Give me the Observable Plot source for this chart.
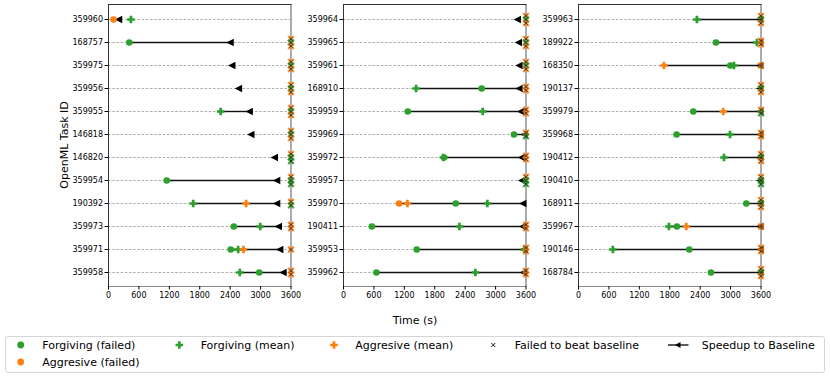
<!DOCTYPE html>
<html><head><meta charset="utf-8">
<script src="https://cdn.jsdelivr.net/npm/d3@7"></script>
<script src="https://cdn.jsdelivr.net/npm/@observablehq/plot@0.6"></script>
<style>
body{margin:0;background:#fff;font-family:"DejaVu Sans",sans-serif;}
#wrap{position:relative;width:830px;height:378px;overflow:hidden;background:#fff;}
.panel{position:absolute;top:0;}
.lbl{position:absolute;font-size:11px;color:#000;white-space:nowrap;line-height:13px;}
#legend{position:absolute;left:5px;top:336px;width:820px;height:37px;border:1px solid #d6d6d6;border-radius:3px;box-sizing:border-box;}
</style></head>
<body><div id="wrap"></div>
<script>
// ---------- data ----------
const xTicks = [0, 600, 1200, 1800, 2400, 3000, 3600];

const p1Tasks = ["359960","168757","359975","359956","359955","146818","146820","359954","190392","359973","359971","359958"];
const p1Baseline = [198, 2398, 2431, 2563, 2775, 2807, 3270, 3316, 3316, 3349, 3376, 3442];
const p1ForgivingFailed = [null, 410, null, null, null, null, null, 1149, null, 2471, 2411, 2973];
const p1ForgivingMean = [443, null, null, null, 2213, null, null, null, 1671, 2993, 2557, 2590];
const p1AggressiveFailed = [99, null, null, null, null, null, null, null, null, null, null, null];
const p1AggressiveMean = [null, null, null, null, null, null, null, null, 2715, null, 2662, null];
const p1FailF = [0, 1, 1, 1, 1, 1, 2, 2, 1, 0, 0, 0];
const p1FailA = [0, 2, 2, 2, 2, 2, 1, 1, 1, 2, 1, 2];

const p2Tasks = ["359964","359965","359961","168910","359959","359969","359972","359957","359970","190411","359953","359962"];
const p2Baseline = [3429, 3449, 3462, 3462, 3495, 3560, 3508, 3514, 3534, 3534, 3560, 3547];
const p2ForgivingFailed = [null, null, null, 2726, 1268, 3363, 1984, null, 2214, 558, 1445, 650];
const p2ForgivingMean = [null, null, null, 1432, 2746, null, 1970, null, 2838, 2286, 3565, 2601];
const p2AggressiveFailed = [null, null, null, null, null, null, null, null, 1097, null, null, null];
const p2AggressiveMean = [null, null, null, null, null, null, null, null, 1261, null, null, null];
const p2FailF = [1, 1, 1, 0, 0, 1, 0, 2, 0, 0, 0, 0];
const p2FailA = [2, 2, 2, 2, 2, 1, 2, 1, 0, 2, 2, 2];

const p3Tasks = ["359963","189922","168350","190137","359979","359968","190412","190410","168911","359967","190146","168784"];
const p3Baseline = [3570, 3572, 3575, 3575, 3575, 3576, 3576, 3578, 3578, 3578, 3580, 3580];
const p3ForgivingFailed = [null, 2711, 2994, null, 2264, 1935, null, null, 3310, 1941, 2185, 2613];
const p3ForgivingMean = [2336, 3521, 3067, null, null, 2988, 2869, null, null, 1783, 678, null];
const p3AggressiveFailed = [null, null, null, null, null, null, null, null, null, null, null, null];
const p3AggressiveMean = [null, null, 1685, null, 2856, null, null, null, null, 2126, null, null];
const p3FailF = [1, 0, 0, 1, 1, 0, 1, 2, 1, 0, 0, 1];
const p3FailA = [2, 2, 1, 2, 1, 2, 2, 1, 2, 1, 2, 2];

const legendLabels = ["Forgiving (failed)", "Forgiving (mean)", "Aggresive (mean)", "Failed to beat baseline", "Speedup to Baseline", "Aggresive (failed)"];
const GREEN = "#2ca02c", ORANGE = "#ff7f0e";

// ---------- symbols ----------
const triLeft = {draw(ctx, size){ const h = Math.sqrt(size/Math.PI); ctx.moveTo(-h,0); ctx.lineTo(h,-h); ctx.lineTo(h,h); ctx.closePath(); }};
const plusFilled = {draw(ctx, size){ const a = Math.sqrt(size/Math.PI), t = a*0.36;
  ctx.moveTo(-a,-t); ctx.lineTo(-t,-t); ctx.lineTo(-t,-a); ctx.lineTo(t,-a); ctx.lineTo(t,-t); ctx.lineTo(a,-t);
  ctx.lineTo(a,t); ctx.lineTo(t,t); ctx.lineTo(t,a); ctx.lineTo(-t,a); ctx.lineTo(-t,t); ctx.lineTo(-a,t); ctx.closePath(); }};

const PANEL_LEFT = [108, 343, 578];
const ML = 48, MR = 14, PW = 182.5;

function panel(tasks, base, ff, fm, af, am, failF, failA) {
  const rows = tasks.map((t,i)=>({task:t, base:base[i], ff:ff[i], fm:fm[i], af:af[i], am:am[i]}));
  const segs = rows.map(r => { const v=[r.ff,r.fm,r.af,r.am].filter(x=>x!=null);
    return v.length ? {task:r.task, lo:Math.min(...v), hi:r.base} : null; }).filter(Boolean);
  const fails = [];
  tasks.forEach((t,i)=>{
    let nf = failF[i], na = failA[i]; const seq = [];
    while (nf>0 || na>0) { if (na>0){seq.push("A");na--;} if (nf>0){seq.push("F");nf--;} }
    const n = seq.length;
    seq.forEach((m,k)=>fails.push({task:t, method:m, off:(k-(n-1)/2)*3.6, x:3600}));
  });
  const offs = [...new Set(fails.map(d=>d.off))];
  const failMarks = [];
  for (const o of offs) {
    const sub = fails.filter(d=>d.off===o);
    failMarks.push(Plot.dot(sub, {x:"x", y:"task", dy:o, symbol:"times", r:2.7, strokeWidth:2.2,
      stroke:d=>d.method==="A"?ORANGE:GREEN, strokeOpacity:0.85}));
  }
  for (const o of offs) {
    const sub = fails.filter(d=>d.off===o);
    failMarks.push(Plot.dot(sub, {x:"x", y:"task", dy:o, symbol:"times", r:1.7, strokeWidth:0.8, stroke:"#222"}));
  }
  return Plot.plot({
    width: ML+PW+MR, height: 304,
    marginLeft: ML, marginRight: MR, marginTop: 4, marginBottom: 18,
    style: {background:"transparent", fontFamily:"DejaVu Sans", fontSize:"8px", overflow:"visible", color:"#000"},
    x: {domain:[0,3600]},
    y: {type:"point", domain:tasks, padding:0, insetTop:13.5, insetBottom:13.5},
    marks: [
      Plot.ruleY(tasks, {stroke:"#9a9a9a", strokeWidth:0.8, strokeDasharray:"2.6,1.6"}),
      Plot.ruleY(segs, {y:"task", x1:"lo", x2:"hi", stroke:"#111", strokeWidth:1.4}),
      Plot.ruleX([3600], {stroke:"#ababab", strokeWidth:2}),
      Plot.dot(rows.filter(r=>r.base!=null), {x:"base", y:"task", symbol:triLeft, r:3.7, fill:"#000"}),
      Plot.dot(rows.filter(r=>r.ff!=null), {x:"ff", y:"task", r:3.3, fill:GREEN}),
      Plot.dot(rows.filter(r=>r.fm!=null), {x:"fm", y:"task", symbol:plusFilled, r:3.8, fill:GREEN}),
      Plot.dot(rows.filter(r=>r.af!=null), {x:"af", y:"task", r:3.3, fill:ORANGE}),
      Plot.dot(rows.filter(r=>r.am!=null), {x:"am", y:"task", symbol:plusFilled, r:3.8, fill:ORANGE}),
      ...failMarks,
      Plot.ruleX([0], {stroke:"#333", strokeWidth:1}),
      Plot.frame({anchor:"top", stroke:"#333", strokeWidth:1}),
      Plot.frame({anchor:"bottom", stroke:"#8a8a8a", strokeWidth:1}),
      Plot.axisX({ticks:xTicks, tickSize:3.5, tickPadding:2, label:null, tickFormat:d=>String(d)}),
      Plot.axisY({tickSize:3.5, tickPadding:2, label:null})
    ]
  });
}

const wrap = document.getElementById("wrap");
const panels = [
  panel(p1Tasks, p1Baseline, p1ForgivingFailed, p1ForgivingMean, p1AggressiveFailed, p1AggressiveMean, p1FailF, p1FailA),
  panel(p2Tasks, p2Baseline, p2ForgivingFailed, p2ForgivingMean, p2AggressiveFailed, p2AggressiveMean, p2FailF, p2FailA),
  panel(p3Tasks, p3Baseline, p3ForgivingFailed, p3ForgivingMean, p3AggressiveFailed, p3AggressiveMean, p3FailF, p3FailA)
];
panels.forEach((p,i)=>{ p.classList.add("panel"); p.style.left = (PANEL_LEFT[i]-ML)+"px"; wrap.appendChild(p); });

// axis titles
const ylab = document.createElement("div");
ylab.className = "lbl"; ylab.textContent = "OpenML Task ID";
ylab.style.left = "64px"; ylab.style.top = "145px"; ylab.style.transform = "translate(-50%,-50%) rotate(-90deg)";
wrap.appendChild(ylab);
const xlab = document.createElement("div");
xlab.className = "lbl"; xlab.textContent = "Time (s)";
xlab.style.left = "415px"; xlab.style.top = "320px"; xlab.style.transform = "translate(-50%,-50%)";
wrap.appendChild(xlab);

// legend
const leg = document.createElement("div"); leg.id = "legend"; wrap.appendChild(leg);
const ns = "http://www.w3.org/2000/svg";
const lsvg = document.createElementNS(ns, "svg");
lsvg.setAttribute("width", 830); lsvg.setAttribute("height", 378);
lsvg.style.position = "absolute"; lsvg.style.left = "0"; lsvg.style.top = "0"; lsvg.style.pointerEvents = "none";
wrap.appendChild(lsvg);
function el(tag, attrs){ const e = document.createElementNS(ns, tag); for (const k in attrs) e.setAttribute(k, attrs[k]); lsvg.appendChild(e); return e; }
function plusPath(cx, cy, a){ const t = a*0.36;
  return `M${cx-a},${cy-t}H${cx-t}V${cy-a}H${cx+t}V${cy-t}H${cx+a}V${cy+t}H${cx+t}V${cy+a}H${cx-t}V${cy+t}H${cx-a}Z`; }
const R1 = 345, R2 = 362;
el("circle", {cx:20.7, cy:R1, r:3.4, fill:GREEN});
el("path", {d:plusPath(179.3, R1, 3.8), fill:GREEN});
el("path", {d:plusPath(334, R1, 3.8), fill:ORANGE});
el("path", {d:`M491.3,${R1-2}L495.3,${R1+2}M491.3,${R1+2}L495.3,${R1-2}`, stroke:"#000", "stroke-width":0.9});
el("line", {x1:668, y1:R1, x2:688.5, y2:R1, stroke:"#000", "stroke-width":1.3});
el("path", {d:`M675,${R1}L680.5,${R1-3}L680.5,${R1+3}Z`, fill:"#000"});
el("circle", {cx:20.7, cy:R2, r:3.4, fill:ORANGE});
const textPos = [[42.3,R1],[200.7,R1],[355.3,R1],[514.7,R1],[701.7,R1],[42.3,R2]];
legendLabels.forEach((t,i)=>{ const d = document.createElement("div"); d.className = "lbl"; d.textContent = t;
  d.style.left = textPos[i][0]+"px"; d.style.top = (textPos[i][1]-6.5)+"px"; wrap.appendChild(d); });
</script>
</body></html>
